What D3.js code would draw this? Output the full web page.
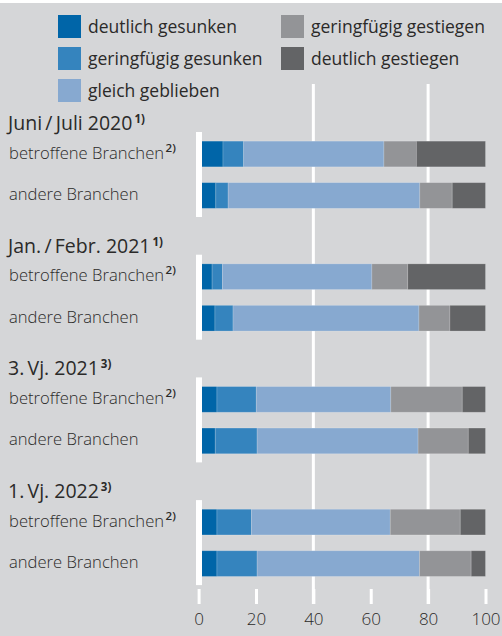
<!DOCTYPE html>
<html>
<head>
<meta charset="utf-8">
<script src="https://d3js.org/d3.v7.min.js"></script>
<style>
  body { margin: 0; background: #fff; }
  text { font-family: "Open Sans", "Noto Sans", sans-serif; fill: #2b2a29; }
</style>
</head>
<body>
<svg id="chart" width="502" height="636"></svg>
<script>
// categories and values (percent shares)
var categories = ["deutlich gesunken", "geringfügig gesunken", "gleich geblieben", "geringfügig gestiegen", "deutlich gestiegen"];
var colors = ["#0065a8", "#3584be", "#87a9d0", "#939497", "#636466"];
var periods = ["Juni\u2009/\u2009Juli 2020", "Jan.\u2009/\u2009Febr. 2021", "3.\u2009Vj. 2021", "1.\u2009Vj. 2022"];
var periodNotes = ["1)", "1)", "3)", "3)"];
var rows = ["betroffene Branchen", "andere Branchen"];
var rowNotes = ["2)", ""];

var betroffene = [
  [8.5, 7.2, 48.9, 11.3, 24.1],
  [4.7, 3.6, 52.1, 12.5, 27.1],
  [6.4, 13.7, 46.9, 24.9, 8.1],
  [6.4, 12.0, 48.4, 24.4, 8.8]
];
var andere = [
  [6.0, 4.3, 66.8, 11.3, 11.6],
  [5.7, 6.3, 64.8, 10.8, 12.4],
  [5.8, 14.6, 56.1, 17.5, 6.0],
  [6.4, 14.0, 56.6, 18.0, 5.0]
];
var xTicks = [0, 20, 40, 60, 80, 100];
var gridTicks = [40, 80];

var svg = d3.select("#chart");

svg.append("rect")
  .attr("x", 0).attr("y", 3)
  .attr("width", 502).attr("height", 633)
  .attr("fill", "#d5d6d8");

var x = d3.scaleLinear().domain([0, 100]).range([198.6, 485.5]);
var yGroup = d3.scaleBand().domain(periods).range([111, 111 + 4 * 122.7]);
var yRow = d3.scalePoint().domain(rows).range([43, 84.5]);
var barH = 25.7;

// legend
var legend = svg.append("g");
categories.forEach(function(c, i) {
  var col = i < 3 ? 0 : 1;
  var r = i < 3 ? i : i - 3;
  var g = legend.append("g").attr("transform", "translate(" + (col ? 281 : 58) + "," + (15 + r * 32) + ")");
  g.append("rect").attr("width", 23).attr("height", 23).attr("fill", colors[i]);
  g.append("text").attr("x", 30).attr("y", 18).attr("font-size", "17.5px").text(c);
});

// gridlines at 40 and 80
svg.selectAll(".grid")
  .data(gridTicks)
  .enter().append("line")
  .attr("x1", function(d) { return x(d); })
  .attr("x2", function(d) { return x(d); })
  .attr("y1", 84).attr("y2", 604)
  .attr("stroke", "#fff").attr("stroke-width", 3);

// groups
periods.forEach(function(p, gi) {
  var g = svg.append("g").attr("transform", "translate(0," + yGroup(p) + ")");
  var t = g.append("text").attr("x", 8).attr("y", 19)
    .attr("font-size", "19.5px").attr("font-weight", 500).text(p);
  t.append("tspan").attr("dx", 2).attr("dy", -7).attr("font-size", "11.5px").attr("font-weight", 700).text(periodNotes[gi]);

  rows.forEach(function(r, ri) {
    var vals = ri == 0 ? betroffene[gi] : andere[gi];
    var cy = yRow(r);
    var lbl = g.append("text").attr("x", 9).attr("y", cy + 4.5)
      .attr("font-size", "16.6px").attr("font-weight", 300).text(r);
    if (rowNotes[ri]) {
      lbl.append("tspan").attr("dx", 1.5).attr("dy", -7).attr("font-size", "11.5px").attr("font-weight", 600).text(rowNotes[ri]);
    }
    var cum = 0;
    var segs = vals.map(function(v, k) { var s = {k: k, x0: cum, x1: cum + v}; cum += v; return s; });
    g.selectAll(".seg" + ri)
      .data(segs)
      .enter().append("rect")
      .attr("x", function(d) { return x(d.x0); })
      .attr("width", function(d) { return x(d.x1) - x(d.x0); })
      .attr("y", cy - barH / 2)
      .attr("height", barH)
      .attr("fill", function(d) { return colors[d.k]; })
      .attr("stroke", "rgba(255,255,255,0.22)")
      .attr("stroke-width", 0.8);
  });

  // zero line
  g.append("line")
    .attr("x1", x(0) + 0.4).attr("x2", x(0) + 0.4)
    .attr("y1", 21).attr("y2", 106)
    .attr("stroke", "#fff").attr("stroke-width", 6);
});

// x axis
var axis = svg.append("g")
  .attr("transform", "translate(0,589)")
  .call(d3.axisBottom(x).tickValues(xTicks).tickSize(15).tickPadding(9));
axis.select(".domain").remove();
axis.selectAll(".tick line").attr("stroke", "#fff").attr("stroke-width", 3);
axis.selectAll(".tick text")
  .attr("font-family", "'Open Sans', sans-serif")
  .attr("font-size", "17px").attr("font-weight", 300)
  .attr("fill", "#333");
</script>
</body>
</html>
